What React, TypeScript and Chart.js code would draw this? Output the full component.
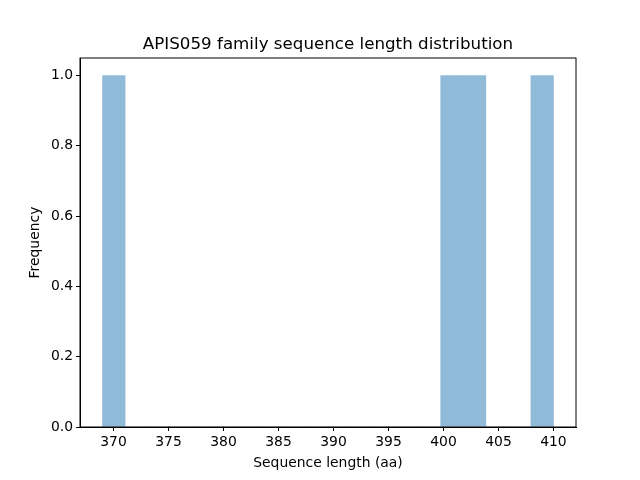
import { Chart, registerables, Plugin } from "chart.js";
import React, { useEffect, useRef } from "react";

Chart.register(...registerables);

// histogram of 4 sequence lengths, 20 bins between 369 and 410
const binStart = 369;
const binEnd = 410;
const binCounts = [1, 0, 0, 0, 0, 0, 0, 0, 0, 0, 0, 0, 0, 0, 0, 1, 1, 0, 0, 1];
const xTicks = [370, 375, 380, 385, 390, 395, 400, 405, 410];
const yTicks = [0, 0.2, 0.4, 0.6, 0.8, 1.0];
const titleText = "APIS059 family sequence length distribution";

const font = "'DejaVu Sans', sans-serif";
const labelSize = 13.9;

// matplotlib style box round the plot area, and the title centred over it
const frame: Plugin = {
  id: "frame",
  afterDraw(chart) {
    const { ctx, chartArea: a } = chart;
    ctx.save();
    ctx.strokeStyle = "#000";
    ctx.lineWidth = 1;
    ctx.strokeRect(a.left, a.top, a.right - a.left, a.bottom - a.top);
    ctx.fillStyle = "#000";
    ctx.font = `16.7px ${font}`;
    ctx.textAlign = "center";
    ctx.textBaseline = "middle";
    ctx.fillText(titleText, (a.left + a.right) / 2, a.top - 13);
    ctx.restore();
  },
};

export default function App() {
  const canvas = useRef<HTMLCanvasElement>(null);

  useEffect(() => {
    document.body.style.margin = "0";
    const ctx = canvas.current?.getContext("2d");
    if (!ctx) return;

    const width = (binEnd - binStart) / binCounts.length;
    const points = binCounts.map((c, i) => ({ x: binStart + width * (i + 0.5), y: c }));
    const span = binEnd - binStart;

    const chart = new Chart(ctx, {
      type: "bar",
      data: {
        datasets: [{
          data: points,
          backgroundColor: "#8fbbd9",
          borderWidth: 0,
          barPercentage: 1,
          categoryPercentage: 1,
        }],
      },
      options: {
        responsive: false,
        animation: false,
        layout: { padding: { top: 58, right: 64 } },
        plugins: {
          legend: { display: false },
          tooltip: { enabled: false },
          title: { display: false },
        },
        scales: {
          x: {
            type: "linear",
            offset: false,
            min: binStart - 0.05 * span,
            max: binEnd + 0.05 * span,
            grid: { display: true, offset: false, drawOnChartArea: false, drawTicks: true, tickLength: 4, color: "#000" },
            border: { display: true, color: "#000" },
            afterBuildTicks: (s) => { s.ticks = xTicks.map(v => ({ value: v })); },
            afterFit: (s) => { s.height = 53; },
            ticks: { color: "#000", font: { family: font, size: labelSize }, padding: 3, maxRotation: 0, autoSkip: false },
            title: {
              display: true,
              text: "Sequence length (aa)",
              color: "#000",
              font: { family: font, size: labelSize },
              padding: { top: 0, bottom: 8 },
            },
          },
          y: {
            min: 0,
            max: 1.05,
            grid: { display: true, drawOnChartArea: false, drawTicks: true, tickLength: 4, color: "#000" },
            border: { display: true, color: "#000" },
            afterBuildTicks: (s) => { s.ticks = yTicks.map(v => ({ value: v })); },
            afterFit: (s) => { s.width = 80; },
            ticks: {
              color: "#000",
              font: { family: font, size: labelSize },
              padding: 3,
              callback: (v) => Number(v).toFixed(1),
            },
            title: {
              display: true,
              text: "Frequency",
              color: "#000",
              font: { family: font, size: labelSize },
              padding: { top: 27, bottom: 0 },
            },
          },
        },
      },
      plugins: [frame],
    });
    return () => chart.destroy();
  });

  return <canvas width="640" height="480" ref={canvas} style={{ display: "block" }} />;
}
